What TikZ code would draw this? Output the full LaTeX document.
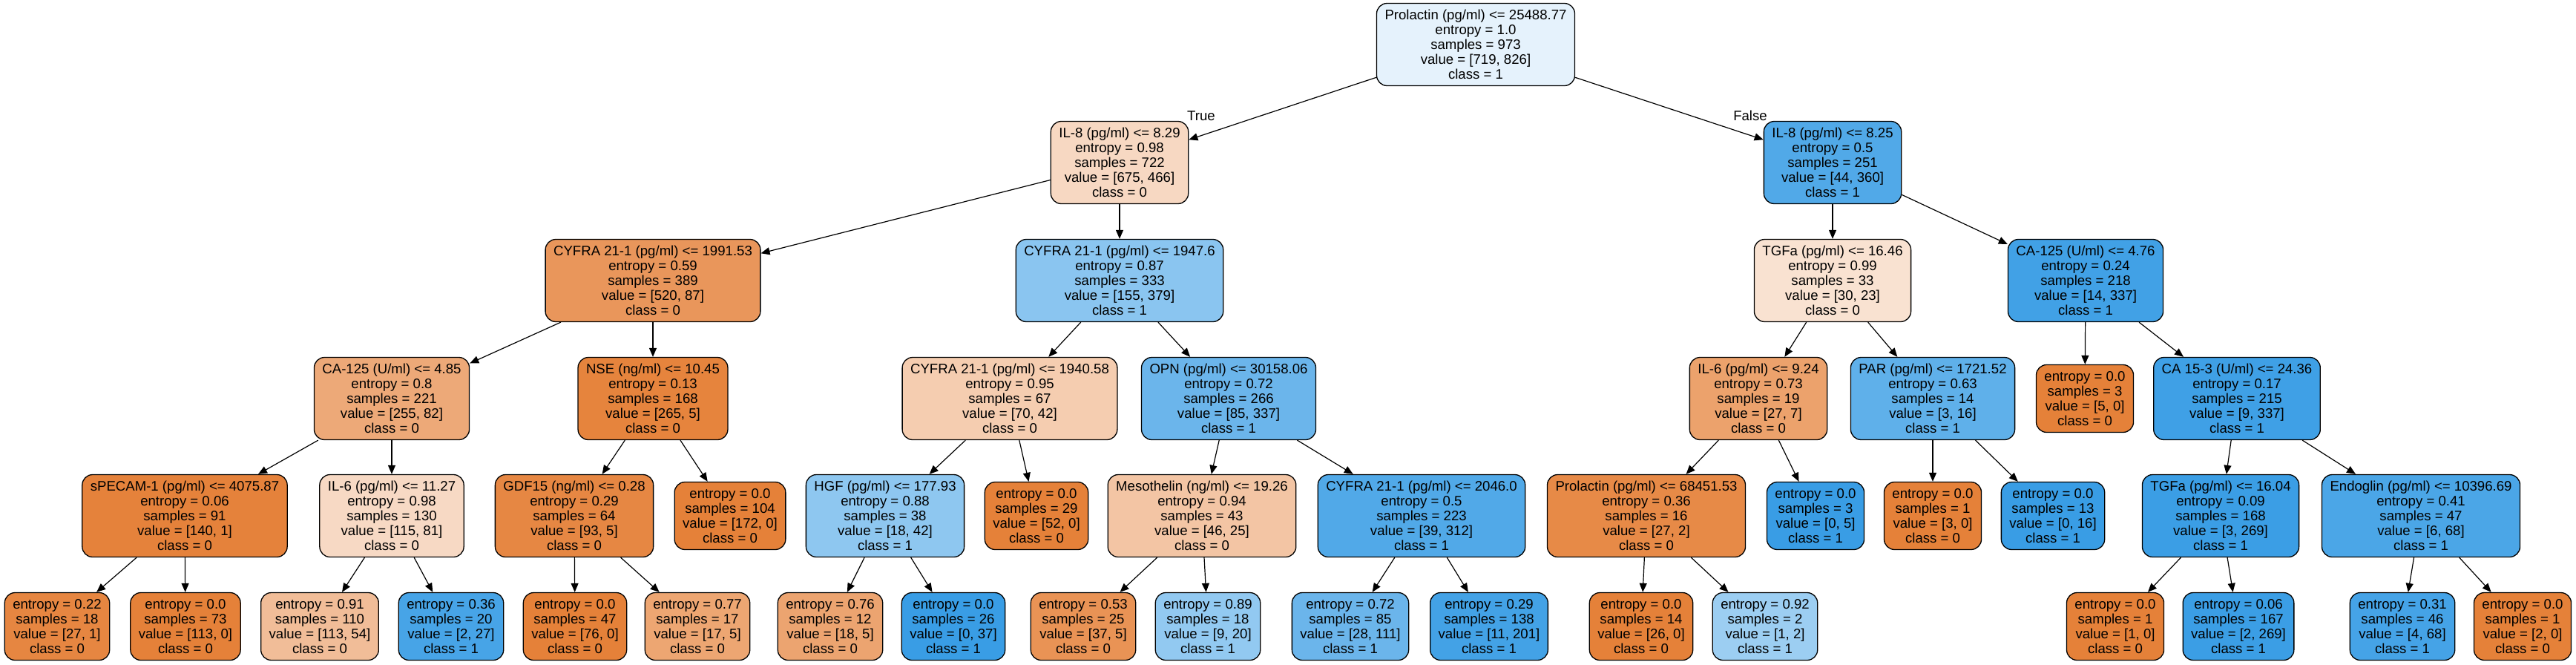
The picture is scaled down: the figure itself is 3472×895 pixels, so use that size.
\documentclass[tikz,border=0pt]{standalone}
\usepackage{fontspec}
\setmainfont{Liberation Sans}
\usepackage{tikz}
\usetikzlibrary{arrows.meta}
\definecolor{cls0}{HTML}{E58139}
\definecolor{cls1}{HTML}{399DE5}

\begin{document}
\begin{tikzpicture}[x=1pt, y=-1pt,
      cond/.style={rectangle, rounded corners=14pt, draw=black, line width=1.3pt,
      minimum height=111pt, inner xsep=11pt, align=center,
      font=\fontsize{18.6}{20}\selectfont},
      leaf/.style={cond, minimum height=91pt},
      arr/.style={-{Triangle[length=12pt, width=10pt]}, line width=1.2pt},
      lbl/.style={font=\fontsize{18.6}{20}\selectfont},
    ]
    \useasboundingbox (0,0) rectangle (3472,895);

    % root
    \node[cond, fill=cls1!13] (n0) at (1989,60) {Prolactin (pg/ml) <= 25488.77\\entropy = 1.0\\samples = 973\\value = [719, 826]\\class = 1};

    % depth 1
    \node[cond, fill=cls0!31] (n1) at (1509,219) {IL-8 (pg/ml) <= 8.29\\entropy = 0.98\\samples = 722\\value = [675, 466]\\class = 0};
    \node[cond, fill=cls1!88] (n2) at (2470,219) {IL-8 (pg/ml) <= 8.25\\entropy = 0.5\\samples = 251\\value = [44, 360]\\class = 1};

    % depth 2
    \node[cond, fill=cls0!83] (n3) at (880,378) {CYFRA 21-1 (pg/ml) <= 1991.53\\entropy = 0.59\\samples = 389\\value = [520, 87]\\class = 0};
    \node[cond, fill=cls1!59] (n4) at (1509,378) {CYFRA 21-1 (pg/ml) <= 1947.6\\entropy = 0.87\\samples = 333\\value = [155, 379]\\class = 1};
    \node[cond, fill=cls0!23] (n5) at (2470,378) {TGFa (pg/ml) <= 16.46\\entropy = 0.99\\samples = 33\\value = [30, 23]\\class = 0};
    \node[cond, fill=cls1!96] (n6) at (2811,378) {CA-125 (U/ml) <= 4.76\\entropy = 0.24\\samples = 218\\value = [14, 337]\\class = 1};

    % depth 3
    \node[cond, fill=cls0!68] (n7) at (528,537) {CA-125 (U/ml) <= 4.85\\entropy = 0.8\\samples = 221\\value = [255, 82]\\class = 0};
    \node[cond, fill=cls0!98] (n8) at (880,537) {NSE (ng/ml) <= 10.45\\entropy = 0.13\\samples = 168\\value = [265, 5]\\class = 0};
    \node[cond, fill=cls0!40] (n9) at (1361,537) {CYFRA 21-1 (pg/ml) <= 1940.58\\entropy = 0.95\\samples = 67\\value = [70, 42]\\class = 0};
    \node[cond, fill=cls1!75] (n10) at (1656,537) {OPN (pg/ml) <= 30158.06\\entropy = 0.72\\samples = 266\\value = [85, 337]\\class = 1};
    \node[cond, fill=cls0!74] (n11) at (2370,537) {IL-6 (pg/ml) <= 9.24\\entropy = 0.73\\samples = 19\\value = [27, 7]\\class = 0};
    \node[cond, fill=cls1!81] (n12) at (2605,537) {PAR (pg/ml) <= 1721.52\\entropy = 0.63\\samples = 14\\value = [3, 16]\\class = 1};
    \node[leaf, fill=cls0] (n13) at (2810,537) {entropy = 0.0\\samples = 3\\value = [5, 0]\\class = 0};
    \node[cond, fill=cls1!97] (n14) at (3015,537) {CA 15-3 (U/ml) <= 24.36\\entropy = 0.17\\samples = 215\\value = [9, 337]\\class = 1};

    % depth 4
    \node[cond, fill=cls0!99] (n15) at (249,695) {sPECAM-1 (pg/ml) <= 4075.87\\entropy = 0.06\\samples = 91\\value = [140, 1]\\class = 0};
    \node[cond, fill=cls0!30] (n16) at (528,695) {IL-6 (pg/ml) <= 11.27\\entropy = 0.98\\samples = 130\\value = [115, 81]\\class = 0};
    \node[cond, fill=cls0!95] (n17) at (774,695) {GDF15 (ng/ml) <= 0.28\\entropy = 0.29\\samples = 64\\value = [93, 5]\\class = 0};
    \node[leaf, fill=cls0] (n18) at (984,695) {entropy = 0.0\\samples = 104\\value = [172, 0]\\class = 0};
    \node[cond, fill=cls1!57] (n19) at (1193,695) {HGF (pg/ml) <= 177.93\\entropy = 0.88\\samples = 38\\value = [18, 42]\\class = 1};
    \node[leaf, fill=cls0] (n20) at (1397,695) {entropy = 0.0\\samples = 29\\value = [52, 0]\\class = 0};
    \node[cond, fill=cls0!46] (n21) at (1620,695) {Mesothelin (ng/ml) <= 19.26\\entropy = 0.94\\samples = 43\\value = [46, 25]\\class = 0};
    \node[cond, fill=cls1!88] (n22) at (1916,695) {CYFRA 21-1 (pg/ml) <= 2046.0\\entropy = 0.5\\samples = 223\\value = [39, 312]\\class = 1};
    \node[cond, fill=cls0!93] (n23) at (2219,695) {Prolactin (pg/ml) <= 68451.53\\entropy = 0.36\\samples = 16\\value = [27, 2]\\class = 0};
    \node[leaf, fill=cls1] (n24) at (2447,695) {entropy = 0.0\\samples = 3\\value = [0, 5]\\class = 1};
    \node[leaf, fill=cls0] (n25) at (2605,695) {entropy = 0.0\\samples = 1\\value = [3, 0]\\class = 0};
    \node[leaf, fill=cls1] (n26) at (2767,695) {entropy = 0.0\\samples = 13\\value = [0, 16]\\class = 1};
    \node[cond, fill=cls1!99] (n27) at (2993,695) {TGFa (pg/ml) <= 16.04\\entropy = 0.09\\samples = 168\\value = [3, 269]\\class = 1};
    \node[cond, fill=cls1!91] (n28) at (3263,695) {Endoglin (pg/ml) <= 10396.69\\entropy = 0.41\\samples = 47\\value = [6, 68]\\class = 1};

    % depth 5
    \node[leaf, fill=cls0!96] (n29) at (77,844) {entropy = 0.22\\samples = 18\\value = [27, 1]\\class = 0};
    \node[leaf, fill=cls0] (n30) at (250,844) {entropy = 0.0\\samples = 73\\value = [113, 0]\\class = 0};
    \node[leaf, fill=cls0!52] (n31) at (431,844) {entropy = 0.91\\samples = 110\\value = [113, 54]\\class = 0};
    \node[leaf, fill=cls1!93] (n32) at (608,844) {entropy = 0.36\\samples = 20\\value = [2, 27]\\class = 1};
    \node[leaf, fill=cls0] (n33) at (775,844) {entropy = 0.0\\samples = 47\\value = [76, 0]\\class = 0};
    \node[leaf, fill=cls0!71] (n34) at (940,844) {entropy = 0.77\\samples = 17\\value = [17, 5]\\class = 0};
    \node[leaf, fill=cls0!72] (n35) at (1119,844) {entropy = 0.76\\samples = 12\\value = [18, 5]\\class = 0};
    \node[leaf, fill=cls1] (n36) at (1285,844) {entropy = 0.0\\samples = 26\\value = [0, 37]\\class = 1};
    \node[leaf, fill=cls0!86] (n37) at (1460,844) {entropy = 0.53\\samples = 25\\value = [37, 5]\\class = 0};
    \node[leaf, fill=cls1!55] (n38) at (1628,844) {entropy = 0.89\\samples = 18\\value = [9, 20]\\class = 1};
    \node[leaf, fill=cls1!75] (n39) at (1820,844) {entropy = 0.72\\samples = 85\\value = [28, 111]\\class = 1};
    \node[leaf, fill=cls1!95] (n40) at (2007,844) {entropy = 0.29\\samples = 138\\value = [11, 201]\\class = 1};
    \node[leaf, fill=cls0] (n41) at (2212,844) {entropy = 0.0\\samples = 14\\value = [26, 0]\\class = 0};
    \node[leaf, fill=cls1!50] (n42) at (2379,844) {entropy = 0.92\\samples = 2\\value = [1, 2]\\class = 1};
    \node[leaf, fill=cls0] (n43) at (2851,844) {entropy = 0.0\\samples = 1\\value = [1, 0]\\class = 0};
    \node[leaf, fill=cls1!99] (n44) at (3017,844) {entropy = 0.06\\samples = 167\\value = [2, 269]\\class = 1};
    \node[leaf, fill=cls1!94] (n45) at (3238,844) {entropy = 0.31\\samples = 46\\value = [4, 68]\\class = 1};
    \node[leaf, fill=cls0] (n46) at (3400,844) {entropy = 0.0\\samples = 1\\value = [2, 0]\\class = 0};

    % branches
    \draw[arr] (n0) -- (n1);
    \draw[arr] (n0) -- (n2);
    \draw[arr] (n1) -- (n3);
    \draw[arr] (n1) -- (n4);
    \draw[arr] (n2) -- (n5);
    \draw[arr] (n2) -- (n6);
    \draw[arr] (n3) -- (n7);
    \draw[arr] (n3) -- (n8);
    \draw[arr] (n4) -- (n9);
    \draw[arr] (n4) -- (n10);
    \draw[arr] (n5) -- (n11);
    \draw[arr] (n5) -- (n12);
    \draw[arr] (n6) -- (n13);
    \draw[arr] (n6) -- (n14);
    \draw[arr] (n7) -- (n15);
    \draw[arr] (n7) -- (n16);
    \draw[arr] (n8) -- (n17);
    \draw[arr] (n8) -- (n18);
    \draw[arr] (n9) -- (n19);
    \draw[arr] (n9) -- (n20);
    \draw[arr] (n10) -- (n21);
    \draw[arr] (n10) -- (n22);
    \draw[arr] (n11) -- (n23);
    \draw[arr] (n11) -- (n24);
    \draw[arr] (n12) -- (n25);
    \draw[arr] (n12) -- (n26);
    \draw[arr] (n14) -- (n27);
    \draw[arr] (n14) -- (n28);
    \draw[arr] (n15) -- (n29);
    \draw[arr] (n15) -- (n30);
    \draw[arr] (n16) -- (n31);
    \draw[arr] (n16) -- (n32);
    \draw[arr] (n17) -- (n33);
    \draw[arr] (n17) -- (n34);
    \draw[arr] (n19) -- (n35);
    \draw[arr] (n19) -- (n36);
    \draw[arr] (n21) -- (n37);
    \draw[arr] (n21) -- (n38);
    \draw[arr] (n22) -- (n39);
    \draw[arr] (n22) -- (n40);
    \draw[arr] (n23) -- (n41);
    \draw[arr] (n23) -- (n42);
    \draw[arr] (n27) -- (n43);
    \draw[arr] (n27) -- (n44);
    \draw[arr] (n28) -- (n45);
    \draw[arr] (n28) -- (n46);

    \node[lbl] (ltrue) at (1619,156) {True};
    \node[lbl] (lfalse) at (2359,156) {False};
  \end{tikzpicture}
\end{document}
